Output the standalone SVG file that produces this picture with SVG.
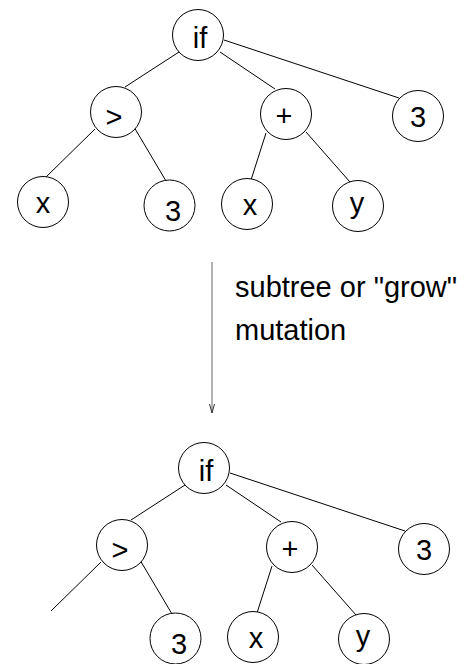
<svg xmlns="http://www.w3.org/2000/svg" width="472" height="664" viewBox="0 0 472 664">
  <style>
    .node circle { fill: #fff; stroke: #000; stroke-width: 1; }
    .node text { font-family: "Liberation Sans", Arial, sans-serif; font-size: 29px; fill: #000; text-anchor: middle; }
    .edge { stroke: #000; stroke-width: 1; fill: none; }
    .note { font-family: "Liberation Sans", Arial, sans-serif; font-size: 29px; fill: #000; }
    .flow { stroke: #666; stroke-width: 1; fill: none; }
  </style>
  <defs>
    <marker id="vhead" markerUnits="userSpaceOnUse" markerWidth="12" markerHeight="10" viewBox="-10 -5 12 10" refX="0" refY="0" orient="auto">
      <path d="M-9,-2.5 L0,0 L-9,2.5" fill="none" stroke="#333" stroke-width="1"/>
    </marker>
  </defs>

  <rect width="472" height="664" fill="#fff"/>

  <!-- edges of both trees -->
  <g id="connectors">
    <g id="edges-before">
      <line class="edge" x1="179" y1="52" x2="125" y2="87"/>
      <line class="edge" x1="220" y1="52" x2="275" y2="89"/>
      <line class="edge" x1="224" y1="40" x2="399" y2="98"/>
      <line class="edge" x1="95" y1="129" x2="45" y2="178"/>
      <line class="edge" x1="134" y1="127" x2="166" y2="181"/>
      <line class="edge" x1="266" y1="133" x2="251" y2="180"/>
      <line class="edge" x1="306" y1="132" x2="350" y2="182"/>
    </g>
    <g id="edges-after" transform="translate(6,433)">
      <line class="edge" x1="179" y1="52" x2="125" y2="87"/>
      <line class="edge" x1="220" y1="52" x2="275" y2="89"/>
      <line class="edge" x1="224" y1="40" x2="399" y2="98"/>
      <line class="edge" x1="95" y1="129" x2="45" y2="178"/>
      <line class="edge" x1="134" y1="127" x2="166" y2="181"/>
      <line class="edge" x1="266" y1="133" x2="251" y2="180"/>
      <line class="edge" x1="306" y1="132" x2="350" y2="182"/>
    </g>
    <line id="mutation-arrow" class="flow" x1="212" y1="262" x2="212" y2="413" marker-end="url(#vhead)"/>
  </g>

  <!-- tree before mutation -->
  <g id="tree-before">
    <g id="b-if" class="node"><circle cx="198" cy="35" r="25.5"/><text x="200" y="48">if</text></g>
    <g id="b-gt" class="node"><circle cx="116" cy="112" r="25.5"/><text x="114" y="127">&gt;</text></g>
    <g id="b-plus" class="node"><circle cx="286" cy="114" r="25.5"/><text x="284" y="126">+</text></g>
    <g id="b-3a" class="node"><circle cx="418" cy="116" r="25.5"/><text x="418" y="127">3</text></g>
    <g id="b-x1" class="node"><circle cx="43" cy="202" r="25.5"/><text x="43" y="213">x</text></g>
    <g id="b-3b" class="node"><circle cx="169.5" cy="205.5" r="25.5"/><text x="173" y="221">3</text></g>
    <g id="b-x2" class="node"><circle cx="247" cy="204" r="25.5"/><text x="250" y="215">x</text></g>
    <g id="b-y" class="node"><circle cx="358" cy="206" r="25.5"/><text x="357" y="213">y</text></g>
  </g>

  <!-- caption of the transformation -->
  <g id="caption">
    <text class="note" x="235" y="297">subtree or "grow"</text>
    <text class="note" x="235" y="340">mutation</text>
  </g>

  <!-- tree after mutation: left leaf removed, its edge left dangling -->
  <g id="tree-after" transform="translate(6,433)">
    <g id="a-if" class="node"><circle cx="198" cy="35" r="25.5"/><text x="200" y="48">if</text></g>
    <g id="a-gt" class="node"><circle cx="116" cy="112" r="25.5"/><text x="114" y="127">&gt;</text></g>
    <g id="a-plus" class="node"><circle cx="286" cy="114" r="25.5"/><text x="284" y="126">+</text></g>
    <g id="a-3a" class="node"><circle cx="418" cy="116" r="25.5"/><text x="418" y="127">3</text></g>
    <g id="a-3b" class="node"><circle cx="169.5" cy="205.5" r="25.5"/><text x="173" y="221">3</text></g>
    <g id="a-x2" class="node"><circle cx="247" cy="204" r="25.5"/><text x="250" y="215">x</text></g>
    <g id="a-y" class="node"><circle cx="358" cy="206" r="25.5"/><text x="357" y="213">y</text></g>
  </g>
</svg>
